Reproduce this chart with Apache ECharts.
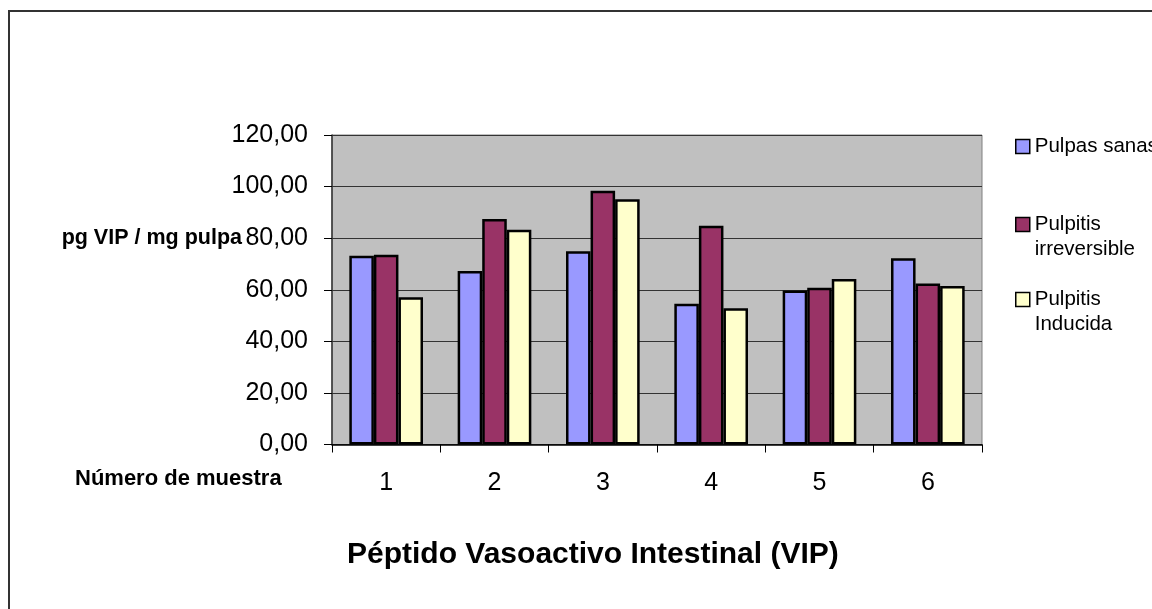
<!DOCTYPE html>
<html>
<head>
<meta charset="utf-8">
<script src="https://cdn.jsdelivr.net/npm/echarts@6/dist/echarts.min.js"></script>
<style>
html,body{margin:0;padding:0;background:#fff;}
#chart{width:1152px;height:609px;}
</style>
</head>
<body>
<div id="chart"></div>
<script>
const categories = ['1', '2', '3', '4', '5', '6'];
const seriesNames = ['Pulpas sanas', 'Pulpitis\nirreversible', 'Pulpitis\nInducida'];
const pulpasSanas = [73.2, 67.3, 74.9, 54.6, 59.7, 72.2];
const pulpitisIrreversible = [73.6, 87.4, 98.4, 84.8, 60.8, 62.4];
const pulpitisInducida = [57.1, 83.3, 95.1, 52.8, 64.2, 61.5];
const yTicks = { min: 0, max: 120, interval: 20 };

const FONT = 'Liberation Sans, Arial, sans-serif';
const colors = ['#9999FF', '#993366', '#FFFFCC'];
const values = [pulpasSanas, pulpitisIrreversible, pulpitisInducida];

const chart = echarts.init(document.getElementById('chart'), null, { renderer: 'canvas' });

function legendFor(i, top, multi) {
  return {
    data: [seriesNames[i]],
    orient: 'vertical',
    left: 1015,
    top: top,
    padding: 0,
    itemGap: 0,
    itemWidth: 14,
    itemHeight: 14,
    icon: 'rect',
    itemStyle: { borderColor: '#000', borderWidth: 1.5 },
    formatter: multi ? (name => '\n' + name) : (name => name),
    textStyle: { fontFamily: FONT, fontSize: 20.5, color: '#000', lineHeight: 25 },
    selectedMode: false
  };
}

chart.setOption({
  backgroundColor: '#fff',
  animation: false,
  textStyle: { fontFamily: FONT },
  title: {
    text: 'Péptido Vasoactivo Intestinal (VIP)',
    left: 347,
    top: 540,
    padding: 0,
    textStyle: { fontFamily: FONT, fontSize: 30, fontWeight: 'bold', color: '#000' }
  },
  legend: [
    legendFor(0, 134, false),
    legendFor(1, 187, true),
    legendFor(2, 262, true)
  ],
  grid: {
    left: 332, top: 135, right: 170, bottom: 164.5,
    show: true, backgroundColor: '#C0C0C0', borderColor: '#808080', borderWidth: 1,
    containLabel: false
  },
  xAxis: {
    type: 'category',
    data: categories,
    axisLine: { show: true, lineStyle: { color: '#000', width: 1.5 } },
    axisTick: { show: true, length: 8, interval: 0, alignWithLabel: false, lineStyle: { color: '#000' } },
    axisLabel: { fontFamily: FONT, fontSize: 25, color: '#000', margin: 26, interval: 0 },
    splitLine: { show: false }
  },
  yAxis: {
    type: 'value',
    min: yTicks.min, max: yTicks.max, interval: yTicks.interval,
    axisLine: { show: true, lineStyle: { color: '#333', width: 1.5 } },
    axisTick: { show: true, length: 8, lineStyle: { color: '#000' } },
    axisLabel: {
      fontFamily: FONT, fontSize: 25, color: '#000', margin: 24,
      formatter: v => v.toFixed(2).replace('.', ',')
    },
    splitLine: { show: true, lineStyle: { color: '#333', width: 1 } }
  },
  series: values.map((d, i) => ({
    name: seriesNames[i],
    type: 'bar',
    data: d,
    barGap: '0%',
    barCategoryGap: '32%',
    itemStyle: { color: colors[i], borderColor: '#000', borderWidth: 2.5 }
  })),
  graphic: [
    {
      type: 'rect', silent: true, z: 100,
      shape: { x: 9, y: 11, width: 1200, height: 700 },
      style: { fill: 'none', stroke: '#333', lineWidth: 2 }
    },
    {
      type: 'text', silent: true, x: 242, y: 238,
      style: { text: 'pg VIP / mg pulpa', fontFamily: FONT, fontSize: 21.5, fontWeight: 'bold', fill: '#000', align: 'right', verticalAlign: 'middle' }
    },
    {
      type: 'text', silent: true, x: 75, y: 479,
      style: { text: 'Número de muestra', fontFamily: FONT, fontSize: 22, fontWeight: 'bold', fill: '#000', align: 'left', verticalAlign: 'middle' }
    }
  ]
});
</script>
</body>
</html>
